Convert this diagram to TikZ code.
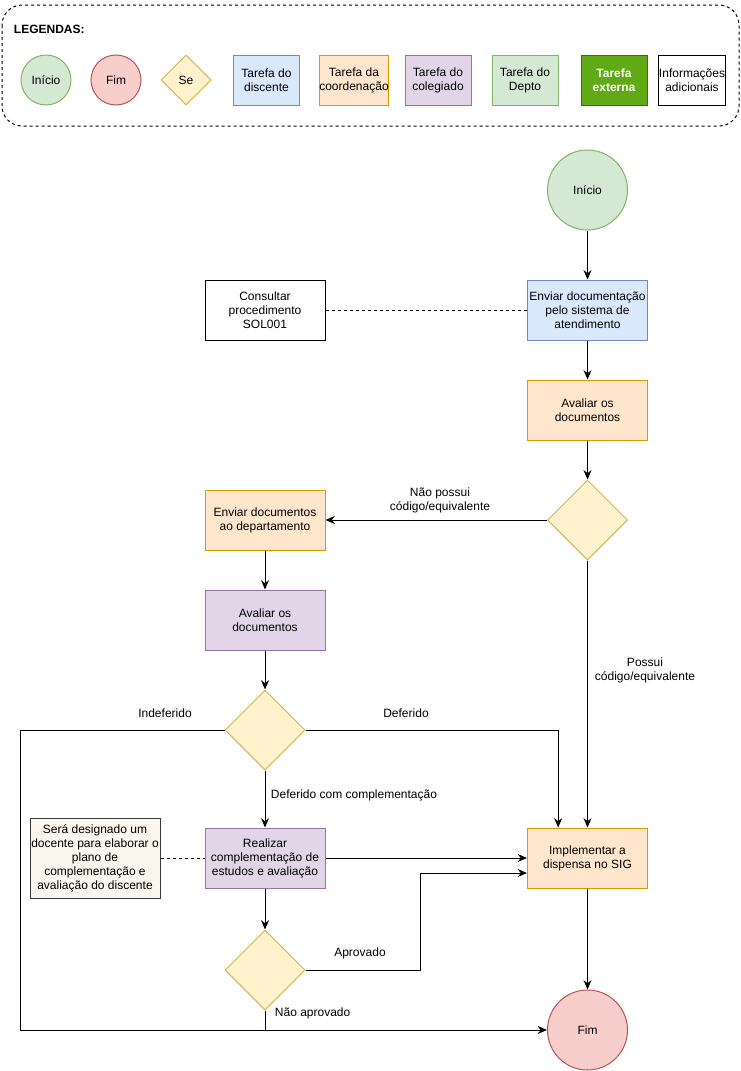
\documentclass[tikz,border=0pt]{standalone}
\usepackage{fontspec}
\setmainfont{Liberation Sans}
\usetikzlibrary{shapes.geometric,arrows.meta}

\definecolor{azulF}{HTML}{DAE8FC}
\definecolor{azulL}{HTML}{6C8EBF}
\definecolor{laranjaF}{HTML}{FFE6CC}
\definecolor{laranjaL}{HTML}{D79B00}
\definecolor{roxoF}{HTML}{E1D5E7}
\definecolor{roxoL}{HTML}{9673A6}
\definecolor{verdeF}{HTML}{D5E8D4}
\definecolor{verdeL}{HTML}{82B366}
\definecolor{vermF}{HTML}{F8CECC}
\definecolor{vermL}{HTML}{B85450}
\definecolor{amareloF}{HTML}{FFF2CC}
\definecolor{amareloL}{HTML}{D6B656}
\definecolor{extF}{HTML}{60A917}
\definecolor{extL}{HTML}{2D7600}
\definecolor{notaF}{HTML}{F9F7ED}
\definecolor{notaL}{HTML}{36393D}

\tikzset{
  txt/.style={font=\fontsize{9}{10.5}\selectfont, align=center},
  tarefa/.style={txt, draw, rectangle, minimum width=90pt, minimum height=45pt, inner sep=0pt},
  legbox/.style={txt, draw, rectangle, minimum width=49.5pt, minimum height=37.5pt, inner sep=0pt},
  discente/.style={fill=azulF, draw=azulL},
  coord/.style={fill=laranjaF, draw=laranjaL},
  colegiado/.style={fill=roxoF, draw=roxoL},
  depto/.style={fill=verdeF, draw=verdeL},
  externa/.style={fill=extF, draw=extL, text=white, font=\fontsize{9}{10.5}\selectfont\bfseries},
  inicio/.style={txt, circle, fill=verdeF, draw=verdeL},
  fim/.style={txt, circle, fill=vermF, draw=vermL},
  decisao/.style={txt, diamond, aspect=1, inner sep=0pt, fill=amareloF, draw=amareloL},
  nota/.style={txt, draw, rectangle, inner sep=0pt, fill=notaF, draw=notaL},
  seta/.style={-{Stealth[length=7pt,width=6pt]}},
  lig/.style={dashed, dash pattern=on 2.25pt off 2.25pt}
}

\begin{document}
\begin{tikzpicture}[x=0.75pt, y=-0.75pt, line width=0.75pt]
  \useasboundingbox (0,0) rectangle (741,1071);

  % Legend
  \draw[lig, rounded corners=15pt] (2,5) rectangle (739,126);
  \node[txt, anchor=west, font=\fontsize{9}{10.5}\selectfont\bfseries] (leg) at (9,29) {LEGENDAS:};
  \node[inicio, minimum size=37.5pt] (lini) at (46,80) {Início};
  \node[fim, minimum size=37.5pt] (lfim) at (116,80) {Fim};
  \node[decisao, minimum width=37.5pt, minimum height=37.5pt] (lse) at (186,80) {Se};
  \node[legbox, discente] (ldis) at (266.5,80) {Tarefa do\\discente};
  \node[legbox, coord] (lcoo) at (354,80) {Tarefa da\\coordenação};
  \node[legbox, colegiado] (lcol) at (438,80) {Tarefa do\\colegiado};
  \node[legbox, depto] (ldep) at (525,80) {Tarefa do\\Depto};
  \node[legbox, externa] (lext) at (614,80) {Tarefa\\externa};
  \node[legbox, fill=white] (linf) at (692,80) {Informações\\adicionais};

  % Nodes with manual coordinates
  \node[inicio, minimum size=60pt] (ini) at (587.5,190) {Início};
  \node[tarefa, discente] (envdoc) at (587.5,310) {Enviar documentação\\pelo sistema de\\atendimento};
  \node[tarefa, fill=white] (cons) at (265,310) {Consultar\\procedimento\\SOL001};
  \node[tarefa, coord] (aval1) at (587.5,410) {Avaliar os\\documentos};
  \node[decisao, minimum width=60pt, minimum height=60pt] (dec1) at (587.5,520) {};
  \node[tarefa, coord] (envdep) at (265,520) {Enviar documentos\\ao departamento};
  \node[tarefa, colegiado] (aval2) at (265,620) {Avaliar os\\documentos};
  \node[decisao, minimum width=60pt, minimum height=60pt] (dec2) at (265,730) {};
  \node[tarefa, colegiado] (real) at (265,858) {Realizar\\complementação de\\estudos e avaliação};
  \node[nota, minimum width=97.5pt, minimum height=60pt] (nota) at (95,858) {Será designado um\\docente para elaborar o\\plano de\\complementação e\\avaliação do discente};
  \node[tarefa, coord] (impl) at (587.5,858) {Implementar a\\dispensa no SIG};
  \node[decisao, minimum width=60pt, minimum height=60pt] (dec3) at (265,970) {};
  \node[fim, minimum size=60pt] (fim) at (587.5,1030) {Fim};

  % Edges
  \draw[seta] (ini) -- (envdoc);
  \draw[lig] (cons) -- (envdoc);
  \draw[seta] (envdoc) -- (aval1);
  \draw[seta] (aval1) -- (dec1);
  \draw[seta] (dec1.west) -- (envdep.east);
  \draw[seta] (dec1.south) -- (impl.north);
  \draw[seta] (envdep) -- (aval2);
  \draw[seta] (aval2) -- (dec2);
  \coordinate (canto) at (20,730);
  \draw[seta] (dec2.west) -- (canto) |- (fim.west);
  \draw[seta] (dec2.east) -| ([xshift=-22pt]impl.north);
  \draw[seta] (dec2.south) -- (real.north);
  \draw[lig] (nota) -- (real);
  \draw[seta] (real.east) -- (impl.west);
  \draw[seta] (real.south) -- (dec3.north);
  \coordinate (desvio) at (420,970);
  \draw[seta] (dec3.east) -- (desvio) |- ([yshift=-11.25pt]impl.west);
  \coordinate (junta) at (265,1030);
  \draw (dec3.south) -- (junta);
  \draw[seta] (impl) -- (fim);

  % Edge labels
  \node[txt] (lnao) at (440,500) {Não possui\\código/equivalente};
  \node[txt] (lpos) at (645,670) {Possui\\código/equivalente};
  \node[txt] (lind) at (165,713) {Indeferido};
  \node[txt] (ldef) at (406,713) {Deferido};
  \node[txt, anchor=west] (ldc) at (266,795) {Deferido com complementação};
  \node[txt] (lapr) at (360,953) {Aprovado};
  \node[txt, anchor=west] (lnap) at (270,1013) {Não aprovado};
\end{tikzpicture}
\end{document}
